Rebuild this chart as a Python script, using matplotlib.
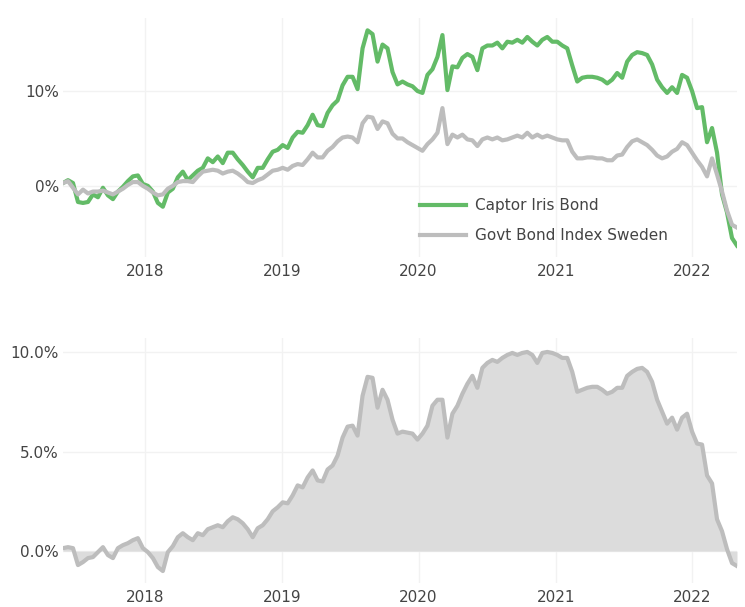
import matplotlib
matplotlib.use("Agg")
import matplotlib.pyplot as plt
import matplotlib.dates as mdates
from matplotlib.ticker import FuncFormatter
import numpy as np
import pandas as pd

# === data (roughly every two weeks) ===
START = "2017-05-27"
END = "2022-04-30"

captor = [0.3, 0.6, 0.3, -1.7, -1.8, -1.7, -0.9, -1.2, -0.2, -1.0,
          -1.4, -0.6, -0.1, 0.5, 1.0, 1.1, 0.2, 0.0, -0.6, -1.8,
          -2.2, -0.7, -0.3, 0.9, 1.5, 0.6, 1.1, 1.6, 1.9, 2.9,
          2.5, 3.1, 2.4, 3.5, 3.5, 2.8, 2.2, 1.5, 0.9, 1.9,
          1.9, 2.8, 3.6, 3.8, 4.3, 4.0, 5.1, 5.7, 5.6, 6.4,
          7.5, 6.4, 6.3, 7.7, 8.5, 9.0, 10.6, 11.5, 11.5, 10.2,
          14.5, 16.4, 16.0, 13.1, 14.9, 14.5, 12.0, 10.7, 11.0, 10.7,
          10.5, 10.0, 9.8, 11.7, 12.3, 13.6, 15.9, 10.1, 12.6, 12.5,
          13.5, 13.9, 13.6, 12.2, 14.5, 14.8, 14.8, 15.1, 14.5, 15.2,
          15.1, 15.4, 15.1, 15.7, 15.2, 14.8, 15.4, 15.7, 15.2, 15.2,
          14.8, 14.5, 12.7, 11.0, 11.4, 11.5, 11.5, 11.4, 11.2, 10.8,
          11.2, 11.9, 11.4, 13.1, 13.8, 14.1, 14.0, 13.8, 12.8, 11.2,
          10.4, 9.8, 10.4, 9.8, 11.7, 11.4, 10.0, 8.2, 8.3, 4.6,
          6.1, 3.5, -0.9, -2.8, -5.5, -6.3]

govt = [0.3, 0.5, -0.2, -0.9, -0.4, -0.8, -0.6, -0.6, -0.5, -0.7,
        -0.9, -0.6, -0.3, 0.1, 0.4, 0.4, 0.0, -0.3, -0.7, -1.0,
        -0.9, -0.3, 0.0, 0.4, 0.5, 0.5, 0.4, 1.0, 1.5, 1.6,
        1.7, 1.6, 1.3, 1.5, 1.6, 1.3, 0.9, 0.4, 0.3, 0.6,
        0.8, 1.2, 1.6, 1.7, 1.9, 1.7, 2.1, 2.3, 2.2, 2.8,
        3.5, 3.0, 3.0, 3.7, 4.1, 4.7, 5.1, 5.2, 5.1, 4.6,
        6.6, 7.3, 7.2, 6.0, 6.8, 6.6, 5.5, 5.0, 5.0, 4.6,
        4.3, 4.0, 3.7, 4.4, 4.9, 5.6, 8.2, 4.4, 5.4, 5.1,
        5.4, 4.9, 4.8, 4.2, 4.9, 5.1, 4.9, 5.1, 4.8, 4.9,
        5.1, 5.3, 5.1, 5.6, 5.1, 5.4, 5.1, 5.3, 5.1, 4.9,
        4.8, 4.8, 3.6, 2.9, 2.9, 3.0, 3.0, 2.9, 2.9, 2.7,
        2.7, 3.2, 3.3, 4.1, 4.7, 4.9, 4.6, 4.3, 3.8, 3.2,
        2.9, 3.1, 3.6, 3.9, 4.6, 4.3, 3.5, 2.7, 2.0, 1.0,
        2.9, 1.2, -0.6, -2.6, -4.1, -4.4]

excess = [0.15, 0.2, 0.15, -0.7, -0.55, -0.35, -0.3, -0.05, 0.2, -0.2,
          -0.35, 0.15, 0.3, 0.4, 0.55, 0.65, 0.15, -0.05, -0.35, -0.8,
          -1.0, -0.05, 0.25, 0.7, 0.9, 0.7, 0.55, 0.9, 0.8, 1.1,
          1.2, 1.3, 1.2, 1.5, 1.7, 1.6, 1.4, 1.1, 0.7, 1.15,
          1.3, 1.6, 2.0, 2.2, 2.45, 2.4, 2.8, 3.3, 3.2, 3.7,
          4.05, 3.55, 3.5, 4.1, 4.3, 4.8, 5.7, 6.25, 6.3, 5.8,
          7.8, 8.75, 8.7, 7.2, 8.1, 7.6, 6.6, 5.9, 6.0, 5.95,
          5.9, 5.6, 5.9, 6.3, 7.3, 7.6, 7.6, 5.7, 6.9, 7.3,
          7.9, 8.4, 8.8, 8.2, 9.2, 9.45, 9.6, 9.5, 9.7, 9.85,
          9.95, 9.85, 9.95, 10.0, 9.85, 9.45, 9.95, 10.0, 9.95, 9.85,
          9.7, 9.7, 9.0, 8.0, 8.1, 8.2, 8.25, 8.25, 8.1, 7.9,
          8.0, 8.2, 8.2, 8.8, 9.0, 9.15, 9.2, 9.0, 8.5, 7.6,
          7.0, 6.4, 6.7, 6.1, 6.7, 6.9, 6.0, 5.4, 5.35, 3.8,
          3.4, 1.6, 1.0, 0.1, -0.6, -0.75]

labels = ["Captor Iris Bond", "Govt Bond Index Sweden"]

dates = pd.date_range(START, END, periods=len(captor))
captor = np.array(captor)
govt = np.array(govt)
excess = np.array(excess)

# === style ===
GREEN = "#63bb67"
GREY = "#bdbdbd"
FILL = "#dcdcdc"
GRID = "#f2f2f2"
TXT = "#444444"

plt.rcParams["font.family"] = ["DejaVu Sans"]
plt.rcParams["font.size"] = 11

fig = plt.figure(figsize=(7.45, 6.07), dpi=100)
W, H = 745, 607


def px_axes(left, top, right, bottom):
    return fig.add_axes([left / W, 1 - bottom / H, (right - left) / W, (bottom - top) / H])


def style(ax):
    for s in ax.spines.values():
        s.set_visible(False)
    ax.grid(True, color=GRID, linewidth=1)
    ax.set_axisbelow(True)
    ax.tick_params(length=0, colors=TXT, labelsize=11, pad=3)
    ax.tick_params(axis="x", pad=5)
    ax.xaxis.set_major_locator(mdates.YearLocator())
    ax.xaxis.set_major_formatter(mdates.DateFormatter("%Y"))
    ax.set_xlim(dates[0], dates[-1])


# --- top panel: cumulative returns ---
ax1 = px_axes(63, 18, 737, 257)
style(ax1)
ax1.plot(dates, captor, color=GREEN, lw=3, label=labels[0], solid_joinstyle="round")
ax1.plot(dates, govt, color=GREY, lw=3, label=labels[1], solid_joinstyle="round")
ax1.set_ylim(-7.5, 17.7)
ax1.set_yticks([0, 10])
ax1.yaxis.set_major_formatter(FuncFormatter(lambda v, p: f"{v:.0f}%"))
leg = ax1.legend(loc="upper left", bbox_to_anchor=(0.518, 0.277), frameon=False,
                 borderpad=0, handlelength=3.0, handletextpad=0.6,
                 labelspacing=0.95, fontsize=11)
for t in leg.get_texts():
    t.set_color(TXT)

# --- bottom panel: relative performance ---
ax2 = px_axes(63, 338, 737, 583)
style(ax2)
ax2.fill_between(dates, 0, excess, color=FILL, lw=0)
ax2.plot(dates, excess, color=GREY, lw=3, solid_joinstyle="round")
ax2.set_ylim(-1.6, 10.7)
ax2.set_yticks([0, 5, 10])
ax2.yaxis.set_major_formatter(FuncFormatter(lambda v, p: f"{v:.1f}%"))

plt.savefig("out.png", dpi=100)
